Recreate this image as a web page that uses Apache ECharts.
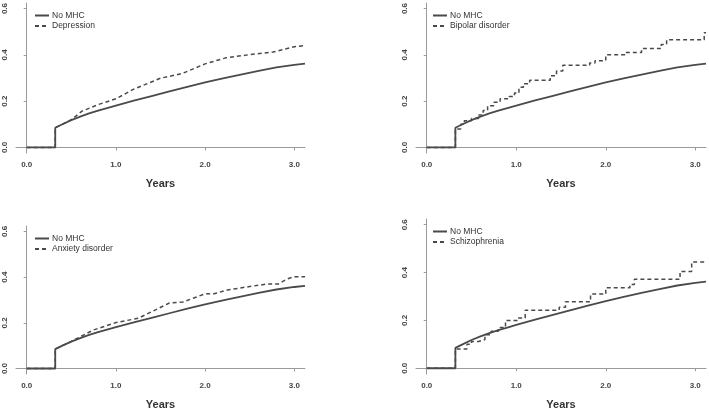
<!DOCTYPE html>
<html>
<head>
<meta charset="utf-8">
<script src="https://cdn.jsdelivr.net/npm/echarts@6/dist/echarts.min.js"></script>
<style>
  html, body { margin: 0; padding: 0; background: #fff; }
  #grid { width: 709px; height: 411px; }
</style>
</head>
<body>
<div id="grid"></div>
<script>
// values (years, cumulative incidence)
const noMhcX = [0, 0.32, 0.32, 0.4, 0.5, 0.6, 0.7, 0.8, 0.9, 1.0, 1.2, 1.4, 1.6, 1.8, 2.0, 2.2, 2.4, 2.6, 2.8, 3.0, 3.12];
const noMhcY = [0, 0, 0.085, 0.1, 0.118, 0.133, 0.147, 0.159, 0.17, 0.181, 0.202, 0.222, 0.242, 0.262, 0.281, 0.298, 0.315, 0.331, 0.346, 0.357, 0.362];

const depressionX = [0, 0.32, 0.32, 0.4, 0.5, 0.62, 0.8, 1.0, 1.2, 1.5, 1.74, 2.0, 2.23, 2.5, 2.76, 3.0, 3.12];
const depressionY = [0, 0, 0.085, 0.1, 0.12, 0.157, 0.185, 0.21, 0.252, 0.299, 0.319, 0.361, 0.387, 0.401, 0.412, 0.435, 0.44];

const bipolarX = [0, 0.32, 0.38, 0.42, 0.5, 0.58, 0.63, 0.68, 0.75, 0.82, 0.92, 0.98, 1.03, 1.08, 1.15, 1.38, 1.45, 1.52, 1.82, 1.88, 2.0, 2.22, 2.4, 2.62, 2.68, 3.1, 3.12];
const bipolarY = [0, 0.08, 0.1, 0.115, 0.125, 0.14, 0.16, 0.18, 0.195, 0.21, 0.22, 0.235, 0.26, 0.275, 0.29, 0.31, 0.33, 0.355, 0.365, 0.375, 0.4, 0.41, 0.427, 0.445, 0.465, 0.495, 0.495];

const anxietyX = [0, 0.32, 0.32, 0.5, 0.75, 1.0, 1.25, 1.45, 1.6, 1.75, 2.0, 2.1, 2.25, 2.5, 2.7, 2.82, 2.92, 3.0, 3.12];
const anxietyY = [0, 0, 0.085, 0.119, 0.169, 0.201, 0.22, 0.258, 0.287, 0.291, 0.327, 0.327, 0.344, 0.359, 0.37, 0.37, 0.392, 0.402, 0.402];

const schizoX = [0, 0.32, 0.45, 0.5, 0.58, 0.65, 0.72, 0.8, 0.88, 1.02, 1.1, 1.48, 1.55, 1.83, 2.0, 2.27, 2.32, 2.83, 2.96, 3.12];
const schizoY = [0, 0.08, 0.1, 0.112, 0.12, 0.14, 0.155, 0.17, 0.2, 0.21, 0.243, 0.255, 0.278, 0.31, 0.337, 0.35, 0.372, 0.405, 0.444, 0.444];

const xTicks = [0, 1, 2, 3];
const yTicks = [0, 0.2, 0.4, 0.6];

const myChart = echarts.init(document.getElementById('grid'));

const pairs = (xs, ys) => xs.map((x, i) => [x, ys[i]]);

const lineColor = '#4a4a4a';
const axisColor = '#9a9a9a';
const font = 'Liberation Sans, Arial, sans-serif';

const grids = [
  { left: 16, top: 3, width: 289, height: 150 },
  { left: 416, top: 3, width: 290, height: 150 },
  { left: 16, top: 226, width: 289, height: 151 },
  { left: 416, top: 219, width: 290, height: 157 },
];

const panels = [
  { name: 'Depression', x: depressionX, y: depressionY, step: false },
  { name: 'Bipolar disorder', x: bipolarX, y: bipolarY, step: 'end' },
  { name: 'Anxiety disorder', x: anxietyX, y: anxietyY, step: false },
  { name: 'Schizophrenia', x: schizoX, y: schizoY, step: 'end' },
];

const xAxes = grids.map((g, i) => ({
  type: 'value',
  gridIndex: i,
  min: -0.12,
  max: 3.12,
  name: 'Years',
  nameLocation: 'middle',
  nameGap: 25,
  nameTextStyle: { fontFamily: font, fontWeight: 'bold', fontSize: 11, color: '#333' },
  axisLine: { show: true, lineStyle: { color: axisColor, width: 1 } },
  axisTick: { show: true, length: 3, customValues: xTicks, lineStyle: { color: axisColor } },
  axisLabel: {
    customValues: xTicks,
    margin: 8,
    fontFamily: font,
    fontWeight: 'bold',
    fontSize: 8,
    color: '#444',
    formatter: (v) => v.toFixed(1),
  },
  splitLine: { show: false },
}));

const yAxes = grids.map((g, i) => ({
  type: 'value',
  gridIndex: i,
  min: -0.024,
  max: 0.624,
  axisLine: { show: true, lineStyle: { color: axisColor, width: 1 } },
  axisTick: { show: true, length: 3, customValues: yTicks, lineStyle: { color: axisColor } },
  axisLabel: {
    customValues: yTicks,
    rotate: 90,
    margin: 7,
    fontFamily: font,
    fontWeight: 'bold',
    fontSize: 8,
    color: '#444',
    formatter: (v) => v.toFixed(1),
  },
  splitLine: { show: false },
}));

const series = [];
panels.forEach((p, i) => {
  series.push({
    name: 'No MHC',
    type: 'line',
    xAxisIndex: i,
    yAxisIndex: i,
    symbol: 'none',
    color: lineColor,
    data: pairs(noMhcX, noMhcY),
    lineStyle: { color: lineColor, width: 1.8 },
    z: 3,
  });
  series.push({
    name: p.name,
    type: 'line',
    xAxisIndex: i,
    yAxisIndex: i,
    symbol: 'none',
    color: lineColor,
    step: p.step,
    data: pairs(p.x, p.y),
    lineStyle: { color: lineColor, width: 1.5, type: [4, 3] },
    z: 2,
  });
});

const legendPos = [
  { left: 34, top: 11 },
  { left: 432, top: 11 },
  { left: 34, top: 234 },
  { left: 432, top: 227 },
];

const legends = panels.map((p, i) => ({
  left: legendPos[i].left,
  top: legendPos[i].top,
  orient: 'vertical',
  data: ['No MHC', p.name],
  selectedMode: false,
  itemWidth: 14,
  itemHeight: 8,
  itemGap: 1.5,
  padding: 0,
  itemStyle: { opacity: 0 },
  textStyle: { fontFamily: font, fontSize: 8.5, color: '#333', padding: [0, 0, 0, -2] },
}));

const option = {
  backgroundColor: '#fff',
  animation: false,
  legend: legends,
  grid: grids,
  xAxis: xAxes,
  yAxis: yAxes,
  series: series,
};

myChart.setOption(option);
</script>
</body>
</html>
